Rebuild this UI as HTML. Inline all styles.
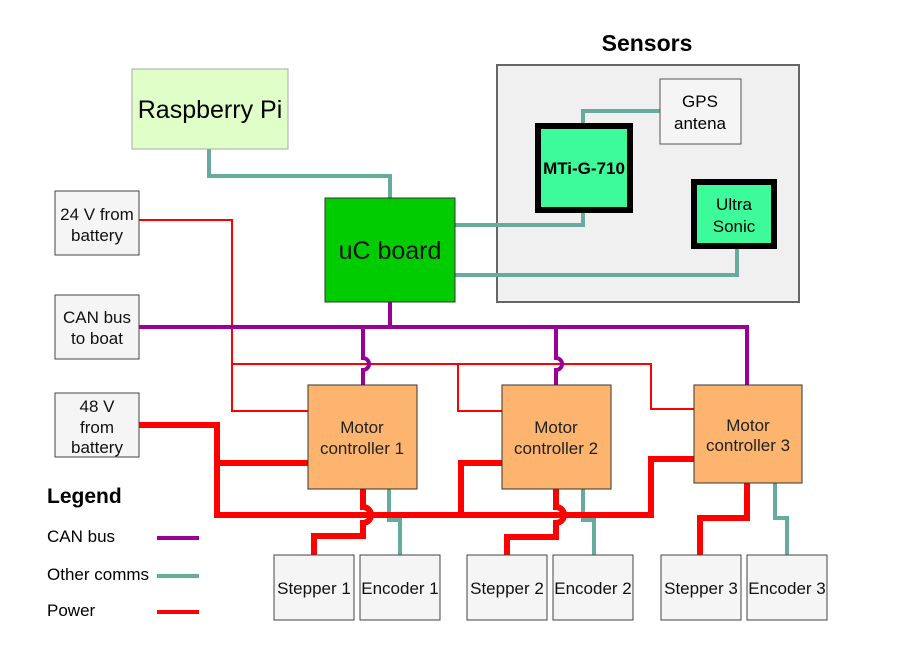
<!DOCTYPE html>
<html><head><style>body{margin:0;background:#fff}svg{display:block}text{font-family:"Liberation Sans",Arial,sans-serif}</style></head><body>
<svg width="897" height="652" viewBox="0 0 897 652" xmlns="http://www.w3.org/2000/svg">
<rect width="897" height="652" fill="#fff"/>
<text x="647" y="51" font-size="23" font-weight="bold" text-anchor="middle">Sensors</text>
<rect x="497" y="65" width="302" height="237" fill="#f0f0f0" stroke="#666" stroke-width="2"/>
<g fill="none" stroke-linejoin="miter">
<g stroke="#67ab9f" stroke-width="4">
<path d="M209 149 V176 H390 V198"/>
<path d="M455 225 H583 V212"/>
<path d="M583 124 V111 H660"/>
<path d="M455 275 H737 V247"/>
<path d="M389 489 V520 H400 V555"/>
<path d="M583 489 V520 H594 V555"/>
<path d="M775 483 V518 H787 V555"/>
</g>
<g stroke="#ff0000" stroke-width="2">
<path d="M139 220 H232 V411 H308"/>
<path d="M232 364 H651 V409 H694"/>
<path d="M458 364 V411 H502"/>
</g>
<g stroke="#990099" stroke-width="4">
<path d="M139 327 H747 V385"/>
<path d="M390 302 V327"/>
<path d="M363 327 V358 A6 6 0 0 1 363 370 V385"/>
<path d="M556 327 V358 A6 6 0 0 1 556 370 V385"/>
</g>
<g stroke="#ff0000" stroke-width="6">
<path d="M139 425 H217 V515 H651 V459 H694"/>
<path d="M217 463 H308"/>
<path d="M461 515 V463 H502"/>
<path d="M363 489 V507 A8 8 0 0 1 363 523 V536 H314 V555"/>
<path d="M556 489 V507 A8 8 0 0 1 556 523 V537 H507 V555"/>
<path d="M747 483 V518 H700 V555"/>
</g>
</g>
<rect x="132" y="69" width="156" height="80" fill="#e0ffc8" stroke="#aaa" stroke-width="1"/>
<text x="210" y="118" font-size="25" text-anchor="middle">Raspberry Pi</text>
<rect x="325" y="198" width="130" height="104" fill="#00cc00" stroke="#333" stroke-width="1"/>
<text x="390" y="259" font-size="25" text-anchor="middle" fill="#111">uC board</text>
<rect x="660" y="79" width="81" height="65" fill="#f5f5f5" stroke="#555" stroke-width="1"/>
<text x="700" y="107" font-size="17" text-anchor="middle">GPS</text>
<text x="700" y="129" font-size="17" text-anchor="middle">antena</text>
<rect x="538" y="126" width="92" height="84" fill="#3dfa9a" stroke="#000" stroke-width="6"/>
<text x="584" y="174" font-size="17" font-weight="bold" text-anchor="middle">MTi-G-710</text>
<rect x="694" y="182" width="80" height="64" fill="#3dfa9a" stroke="#000" stroke-width="6"/>
<text x="734" y="210" font-size="17" text-anchor="middle">Ultra</text>
<text x="734" y="232" font-size="17" text-anchor="middle">Sonic</text>
<g fill="#f5f5f5" stroke="#444" stroke-width="1">
<rect x="55" y="191" width="84" height="64"/>
<rect x="55" y="295" width="84" height="64"/>
<rect x="55" y="393" width="84" height="64"/>
<rect x="274" y="555" width="80" height="65"/>
<rect x="360" y="555" width="80" height="65"/>
<rect x="467" y="555" width="80" height="65"/>
<rect x="553" y="555" width="80" height="65"/>
<rect x="661" y="555" width="80" height="65"/>
<rect x="747" y="555" width="80" height="65"/>
</g>
<g font-size="17" text-anchor="middle" fill="#111">
<text x="97" y="220">24 V from</text><text x="97" y="241">battery</text>
<text x="97" y="323">CAN bus</text><text x="97" y="344">to boat</text>
<text x="97" y="412">48 V</text><text x="97" y="433">from</text><text x="97" y="453">battery</text>
<text x="314" y="594">Stepper 1</text><text x="400" y="594">Encoder 1</text>
<text x="507" y="594">Stepper 2</text><text x="593" y="594">Encoder 2</text>
<text x="701" y="594">Stepper 3</text><text x="787" y="594">Encoder 3</text>
</g>
<g fill="#fdb46e" stroke="#333" stroke-width="1">
<rect x="308" y="385" width="109" height="104"/>
<rect x="502" y="385" width="109" height="104"/>
<rect x="694" y="385" width="108" height="98"/>
</g>
<g font-size="17" text-anchor="middle" fill="#222">
<text x="362" y="433">Motor</text><text x="362" y="454">controller 1</text>
<text x="556" y="433">Motor</text><text x="556" y="454">controller 2</text>
<text x="748" y="431">Motor</text><text x="748" y="451">controller 3</text>
</g>
<text x="47" y="503" font-size="21" font-weight="bold">Legend</text>
<text x="47" y="542" font-size="17">CAN bus</text>
<text x="47" y="580" font-size="17">Other comms</text>
<text x="47" y="616" font-size="17">Power</text>
<path d="M157 538 H199" stroke="#990099" stroke-width="4"/>
<path d="M157 576 H199" stroke="#67ab9f" stroke-width="4"/>
<path d="M157 612 H199" stroke="#ff0000" stroke-width="4"/>
</svg>
</body></html>
